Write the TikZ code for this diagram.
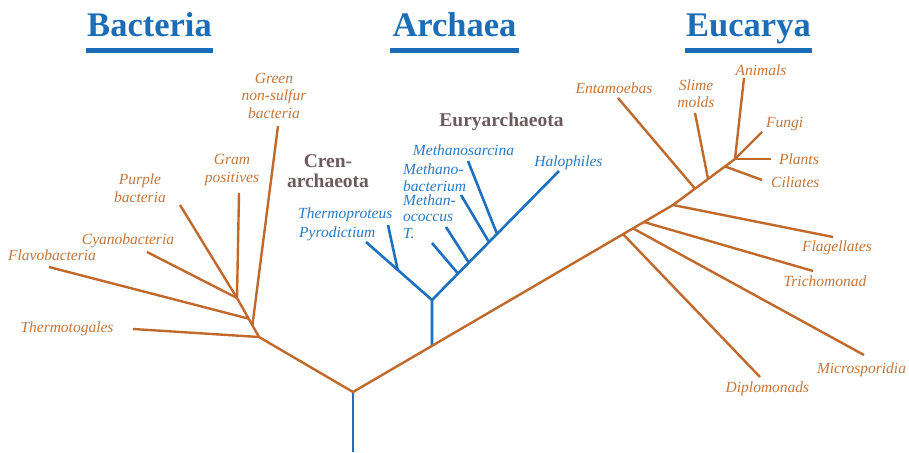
\documentclass[tikz,border=0pt]{standalone}
\usepackage{fontspec}
\setmainfont{Liberation Serif}
\usetikzlibrary{calc}
\definecolor{orL}{HTML}{C0692B}
\definecolor{orT}{HTML}{C4763A}
\definecolor{blL}{HTML}{1D6FBF}
\definecolor{blT}{HTML}{2A7AC6}
\definecolor{ttlB}{HTML}{1B6DB8}
\definecolor{grT}{HTML}{6B5A5E}
\tikzset{
  obr/.style={draw=orL, line width=2.4pt, line join=round},
  bbr/.style={draw=blL, line width=2.6pt, line join=round},
  olab/.style={font=\fontsize{15.5}{17.5}\selectfont\itshape, text=orT, inner sep=0pt},
  blab/.style={font=\fontsize{15.5}{16.5}\selectfont\itshape, text=blT, inner sep=0pt},
  glab/.style={font=\fontsize{19.5}{20}\selectfont\bfseries, text=grT, inner sep=0pt},
  ttl/.style={font=\fontsize{34.5}{36}\selectfont\bfseries, text=ttlB, inner sep=0pt},
  uline/.style={fill=ttlB, draw=none}
}
\begin{document}
\begin{tikzpicture}[x=1pt,y=-1pt]
\useasboundingbox (0,0) rectangle (909,452);
% titles
\node[ttl, anchor=base] (tB) at (149.5,37) {Bacteria};
\node[ttl, anchor=base] (tA) at (454.5,37) {Archaea};
\node[ttl, anchor=base] (tE) at (748.5,37) {Eucarya};
\fill[uline] (86,48) rectangle (213,53);
\fill[uline] (390,48) rectangle (519,53);
\fill[uline] (685,48) rectangle (812,53);

% main coordinates
\coordinate (root) at (353,392);
\coordinate (rootbot) at (353,452);
\coordinate (bh) at (259,337);
\coordinate (bq) at (237,298);
\coordinate (kf) at (673,205);
\coordinate (ktop) at (735,159);
\coordinate (astem) at ($(root)!0.247!(kf)$);
\coordinate (ahub) at (432,300);

% bacteria ends
\coordinate (eTherm) at (133,329);
\coordinate (eGreen) at (278,126);
\coordinate (eFlavo) at (49,267);
\coordinate (eCyano) at (147,252);
\coordinate (ePurple) at (180,205);
\coordinate (eGram) at (239,193);
\coordinate (jGreen) at ($(bh)!0.3!(bq)$);
\coordinate (jFlavo) at ($(bh)!0.47!(bq)$);

% archaea
\coordinate (aPyro) at (366,242);
\coordinate (aThJ) at ($(ahub)!0.52!(aPyro)$);
\coordinate (aTh) at (388,225);
\coordinate (aHal) at (559,171);
\coordinate (j1) at ($(ahub)!0.205!(aHal)$);
\coordinate (j2) at ($(ahub)!0.29!(aHal)$);
\coordinate (j3) at ($(ahub)!0.449!(aHal)$);
\coordinate (j4) at ($(ahub)!0.512!(aHal)$);
\coordinate (a1) at (432,243);
\coordinate (a2) at (446,227);
\coordinate (a3) at (461,195);
\coordinate (a4) at (468,161);

% eucarya
\coordinate (kDip) at ($(root)!0.844!(kf)$);
\coordinate (kMic) at ($(root)!0.875!(kf)$);
\coordinate (kTri) at ($(root)!0.909!(kf)$);
\coordinate (kEnt) at ($(kf)!0.355!(ktop)$);
\coordinate (kSli) at ($(kf)!0.565!(ktop)$);
\coordinate (kCil) at ($(kf)!0.839!(ktop)$);
\coordinate (eDip) at (760,377);
\coordinate (eMic) at (864,355);
\coordinate (eTri) at (813,271);
\coordinate (eFla) at (833,237);
\coordinate (eEnt) at (618,98);
\coordinate (eSli) at (695,113);
\coordinate (eCil) at (762,180);
\coordinate (ePla) at (771,159);
\coordinate (eAni) at (744,78);
\coordinate (eFun) at (762,132);

% blue branches
\draw[bbr] (rootbot) -- (root);
\draw[bbr] (astem) -- (ahub);
\draw[bbr] (ahub) -- (aPyro);
\draw[bbr] (aThJ) -- (aTh);
\draw[bbr] (ahub) -- (aHal);
\draw[bbr] (j1) -- (a1);
\draw[bbr] (j2) -- (a2);
\draw[bbr] (j3) -- (a3);
\draw[bbr] (j4) -- (a4);

% orange branches
\draw[obr] (bh) -- (root) -- (kf) -- (ktop);
\draw[obr] (bh) -- (eTherm);
\draw[obr] (bh) -- (bq);
\draw[obr] (jGreen) -- (eGreen);
\draw[obr] (jFlavo) -- (eFlavo);
\draw[obr] (bq) -- (eCyano);
\draw[obr] (bq) -- (ePurple);
\draw[obr] (bq) -- (eGram);
\draw[obr] (kDip) -- (eDip);
\draw[obr] (kMic) -- (eMic);
\draw[obr] (kTri) -- (eTri);
\draw[obr] (kf) -- (eFla);
\draw[obr] (kEnt) -- (eEnt);
\draw[obr] (kSli) -- (eSli);
\draw[obr] (kCil) -- (eCil);
\draw[obr] (ktop) -- (ePla);
\draw[obr] (ktop) -- (eAni);
\draw[obr] (ktop) -- (eFun);

% bacteria labels
\node[olab, align=center] (lGreen) at (274,95.5) {Green\\non-sulfur\\bacteria};
\node[olab, align=center] (lGram) at (232,170) {Gram\\positives};
\node[olab, align=center] (lPurple) at (140,188) {Purple\\bacteria};
\node[olab, anchor=base] (lCyano) at (128,244) {Cyanobacteria};
\node[olab, anchor=base] (lFlavo) at (52,260) {Flavobacteria};
\node[olab, anchor=base] (lTherm) at (67,332) {Thermotogales};

% archaea labels
\node[glab, align=center] (lCren) at (328,171) {Cren-\\archaeota};
\node[glab, anchor=base] (lEury) at (501.5,126) {Euryarchaeota};
\node[blab, anchor=base west] (lThp) at (298,218) {Thermoproteus};
\node[blab, anchor=base west] (lPyr) at (299,237) {Pyrodictium};
\node[blab, anchor=base] (lMsar) at (463.5,155) {Methanosarcina};
\node[blab, align=left, anchor=west] (lMbac) at (403,177.5) {Methano-\\bacterium};
\node[blab, align=left, anchor=west] (lMoc) at (403,216.5) {Methan-\\ococcus\\T.};
\node[blab, anchor=base] (lHal) at (568.5,166) {Halophiles};

% eucarya labels
\node[olab, anchor=base] (lEnt) at (614,93) {Entamoebas};
\node[olab, align=center] (lSli) at (696,93.5) {Slime\\molds};
\node[olab, anchor=base] (lAni) at (761,75) {Animals};
\node[olab, anchor=base west] (lFun) at (766,127) {Fungi};
\node[olab, anchor=base west] (lPla) at (779,164) {Plants};
\node[olab, anchor=base west] (lCil) at (771,187) {Ciliates};
\node[olab, anchor=base] (lFla) at (837,251) {Flagellates};
\node[olab, anchor=base] (lTri) at (825,286) {Trichomonad};
\node[olab, anchor=base] (lMic) at (861.5,373) {Microsporidia};
\node[olab, anchor=base] (lDip) at (767.5,392) {Diplomonads};
\end{tikzpicture}
\end{document}
